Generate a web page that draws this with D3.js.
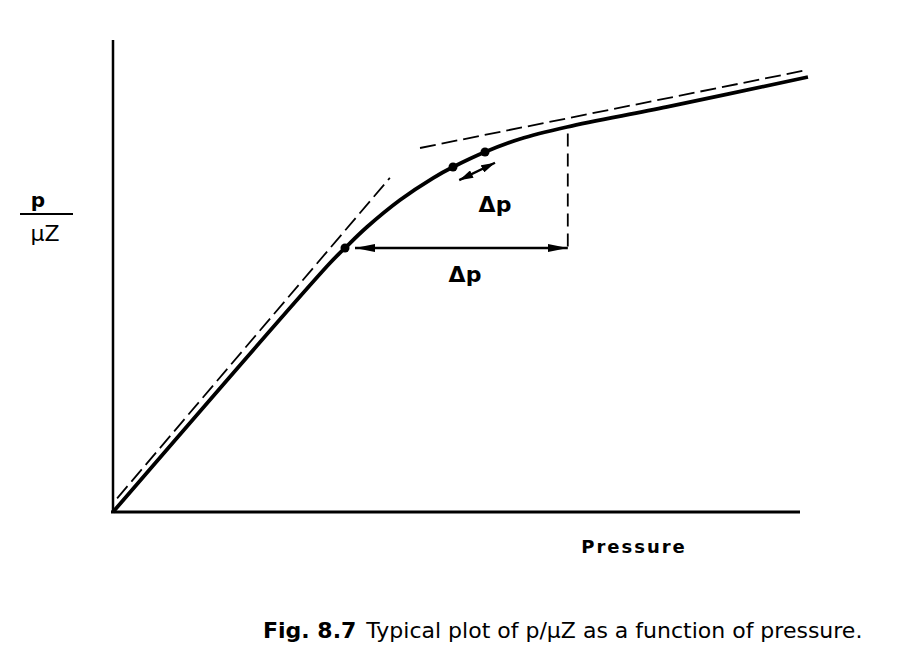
<!DOCTYPE html>
<html><head><meta charset="utf-8">
<script src="https://cdn.jsdelivr.net/npm/d3@7"></script>
<style>body{margin:0;background:#fff}svg{display:block}</style>
</head><body>
<script>
// data (x = pressure, y = p/μZ, arbitrary units 0..100)
const curveX = [0, 31.59, 33.77, 36.97, 41.78, 46.58, 49.49, 54.15, 59.24, 66.08, 80.64, 101.16];
const curveY = [0, 52.75, 55.93, 60.38, 66.10, 70.76, 73.09, 76.27, 79.03, 81.57, 85.81, 92.16];
const lowAsymX = [0.6, 40.3];
const lowAsymY = [2.9, 70.8];
const highAsymX = [44.69, 101.02];
const highAsymY = [77.12, 93.64];
const dotX = [33.77, 49.49, 54.15];
const dotY = [55.93, 73.09, 76.27];
const dpStartX = 33.77, dpEndX = 66.2, dpY = 55.93;
const vertTopY = 80.2;
const smallArrowX = [55.6, 50.4];
const smallArrowY = [74.0, 70.3];
const labels = { yTop: "p", yBottom: "\u03bcZ", x: "Pressure", delta: "\u0394p",
  captionBold: "Fig. 8.7", caption: "Typical plot of p/\u03bcZ as a function of pressure." };

const W = 902, H = 660;
const svg = d3.select("body").append("svg").attr("width", W).attr("height", H);
const x = d3.scaleLinear().domain([0, 100]).range([113, 800]);
const y = d3.scaleLinear().domain([0, 100]).range([512, 40]);

const defs = svg.append("defs");
defs.append("marker").attr("id", "ah").attr("viewBox", "0 0 20 8").attr("refX", 20).attr("refY", 4)
  .attr("markerWidth", 20).attr("markerHeight", 8).attr("markerUnits","userSpaceOnUse").attr("orient", "auto-start-reverse")
  .append("path").attr("d", "M0,0 L20,4 L0,8 Z").attr("fill", "#000");
defs.append("marker").attr("id", "ahs").attr("viewBox", "0 0 14 8").attr("refX", 14).attr("refY", 4)
  .attr("markerWidth", 14).attr("markerHeight", 8).attr("markerUnits","userSpaceOnUse").attr("orient", "auto-start-reverse")
  .append("path").attr("d", "M0,0 L14,4 L0,8 Z").attr("fill", "#000");

// axes
svg.append("line").attr("x1", x(0)).attr("y1", y(100)).attr("x2", x(0)).attr("y2", y(0))
  .attr("stroke", "#000").attr("stroke-width", 2.5);
svg.append("line").attr("x1", x(0) - 2).attr("y1", y(0)).attr("x2", x(100)).attr("y2", y(0))
  .attr("stroke", "#000").attr("stroke-width", 3);

// dashed asymptotes
const dash = (xs, ys) => svg.append("line").attr("x1", x(xs[0])).attr("y1", y(ys[0]))
  .attr("x2", x(xs[1])).attr("y2", y(ys[1])).attr("stroke", "#000").attr("stroke-width", 1.8)
  .attr("stroke-dasharray", "16,6");
dash(lowAsymX, lowAsymY);
dash(highAsymX, highAsymY);

// main curve
const pts = curveX.map((d, i) => [d, curveY[i]]);
svg.append("path").datum(pts)
  .attr("d", d3.line().x(d => x(d[0])).y(d => y(d[1])).curve(d3.curveCatmullRom.alpha(0.5)))
  .attr("fill", "none").attr("stroke", "#000").attr("stroke-width", 3.8).attr("stroke-linejoin", "round");

// vertical dashed
svg.append("line").attr("x1", x(dpEndX)).attr("y1", y(vertTopY)).attr("x2", x(dpEndX)).attr("y2", y(dpY))
  .attr("stroke", "#000").attr("stroke-width", 1.8).attr("stroke-dasharray", "13,7");

// horizontal Δp arrow
svg.append("line").attr("x1", x(dpStartX) + 10).attr("y1", y(dpY)).attr("x2", x(dpEndX)).attr("y2", y(dpY))
  .attr("stroke", "#000").attr("stroke-width", 2.4)
  .attr("marker-start", "url(#ah)").attr("marker-end", "url(#ah)");

// small arrow along curve
svg.append("line").attr("x1", x(smallArrowX[0])).attr("y1", y(smallArrowY[0]))
  .attr("x2", x(smallArrowX[1])).attr("y2", y(smallArrowY[1]))
  .attr("stroke", "#000").attr("stroke-width", 2.4)
  .attr("marker-start", "url(#ahs)").attr("marker-end", "url(#ahs)");

// dots
svg.selectAll("circle.d").data(dotX).enter().append("circle")
  .attr("cx", d => x(d)).attr("cy", (d, i) => y(dotY[i])).attr("r", 4.5).attr("fill", "#000");

// labels
const font = "'DejaVu Sans', 'Liberation Sans', sans-serif";
svg.append("text").attr("x", 495).attr("y", 212).attr("font-family", font).attr("font-size", 22)
  .attr("font-weight", "bold").attr("text-anchor", "middle").text(labels.delta);
svg.append("text").attr("x", 465).attr("y", 282).attr("font-family", font).attr("font-size", 22)
  .attr("font-weight", "bold").attr("text-anchor", "middle").text(labels.delta);

svg.append("text").attr("x", 38).attr("y", 207).attr("font-family", font).attr("font-size", 20)
  .attr("font-weight", "bold").attr("text-anchor", "middle").text(labels.yTop);
svg.append("line").attr("x1", 20).attr("x2", 73).attr("y1", 214).attr("y2", 214).attr("stroke", "#000").attr("stroke-width", 2.2);
svg.append("text").attr("x", 45).attr("y", 241).attr("font-family", font).attr("font-size", 22)
  .attr("text-anchor", "middle").text(labels.yBottom);

svg.append("text").attr("x", 634).attr("y", 553).attr("font-family", font).attr("font-size", 18)
  .attr("font-weight", "bold").attr("letter-spacing", 2).attr("text-anchor", "middle").text(labels.x);

const cap = svg.append("text").attr("x", 263).attr("y", 638).attr("font-family", font).attr("font-size", 22);
cap.append("tspan").attr("font-weight", "bold").text(labels.captionBold);
cap.append("tspan").attr("dx", 10).text(labels.caption);
</script>
</body></html>
